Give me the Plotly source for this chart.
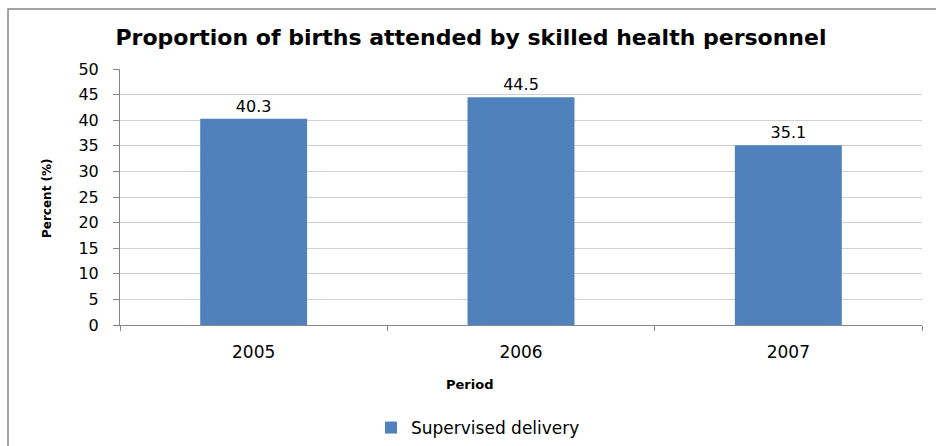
import plotly.graph_objects as go

categories = ["2005", "2006", "2007"]
values = [40.3, 44.5, 35.1]
series_name = "Supervised delivery"
title_text = "Proportion of births attended by skilled health personnel"
x_title = "Period"
y_title = "Percent (%)"

W, H = 936, 446
L, R, T, B = 120, 14, 69, 121
PW, PH = W - L - R, H - T - B

def px_x(px):
    return (px - L) / PW

def px_y(py):
    return (H - B - py) / PH

fig = go.Figure()
fig.add_trace(go.Bar(
    x=categories, y=values, name=series_name,
    marker=dict(color="#4F81BD", line=dict(width=0)),
    text=[f"{v:.1f}" for v in values], textposition="outside",
    textfont=dict(family="DejaVu Sans", size=16, color="#000000"),
    cliponaxis=False,
    showlegend=True,
))

fig.update_layout(
    width=W, height=H,
    margin=dict(l=L, r=R, t=T, b=B, autoexpand=False),
    paper_bgcolor="white", plot_bgcolor="white",
    bargap=0.6,
    title=dict(text=f"<b>{title_text}</b>", x=471 / W, xanchor="center",
               y=1 - 37 / H, yanchor="middle",
               font=dict(family="DejaVu Sans", size=22, color="#000000")),
    xaxis=dict(type="category", tickson="boundaries", ticks="outside",
               ticklen=5, tickcolor="#868686", showline=True,
               linecolor="#868686", linewidth=1, showgrid=False,
               ticklabelstandoff=12,
               tickfont=dict(family="DejaVu Sans", size=17, color="#000000")),
    yaxis=dict(range=[0, 50], dtick=5, ticks="outside", ticklen=6,
               tickcolor="#868686", showline=True, linecolor="#868686",
               linewidth=1, showgrid=True, gridcolor="#D0D0D0",
               zeroline=False, ticklabelstandoff=11,
               tickfont=dict(family="DejaVu Sans", size=16, color="#000000")),
    legend=dict(orientation="h", x=px_x(478), xanchor="center",
                y=px_y(428), yanchor="middle", itemwidth=30,
                font=dict(family="DejaVu Sans", size=17, color="#000000")),
    showlegend=True,
    annotations=[
        dict(text=f"<b>{x_title}</b>", xref="paper", yref="paper",
             x=px_x(469), y=px_y(384), showarrow=False,
             xanchor="center", yanchor="middle",
             font=dict(family="DejaVu Sans", size=13, color="#000000")),
        dict(text=f"<b>{y_title}</b>", xref="paper", yref="paper",
             x=px_x(47), y=px_y(198), showarrow=False, textangle=-90,
             xanchor="center", yanchor="middle",
             font=dict(family="DejaVu Sans", size=12, color="#000000")),
    ],
    shapes=[
        dict(type="rect", xref="paper", yref="paper",
             x0=px_x(8), x1=px_x(960), y0=px_y(9), y1=px_y(470),
             line=dict(color="#868686", width=1.5), fillcolor="rgba(0,0,0,0)",
             layer="below"),
    ],
)

fig.write_html("out.html", config={"displayModeBar": False},
               post_script="document.body.style.margin='0px';document.body.style.overflow='hidden';")
